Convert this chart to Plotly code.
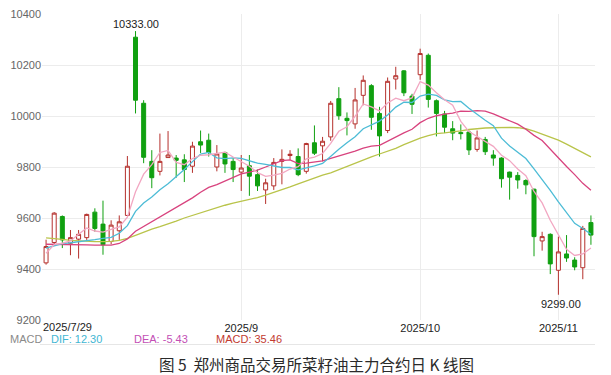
import plotly.graph_objects as go
import pandas as pd

# ---------------- data ----------------
dates = [d.strftime('%Y-%m-%d') for d in pd.bdate_range('2025-07-29', '2025-11-07')
         if not ('2025-10-01' <= d.strftime('%Y-%m-%d') <= '2025-10-08')]

opens = [9424, 9504, 9606, 9501, 9517, 9523, 9623, 9576, 9508, 9550,
         9610, 10309, 10050, 9822, 9783, 9837, 9835, 9828, 9803, 9899,
         9905, 9800, 9857, 9822, 9780, 9805, 9770, 9710, 9726, 9822,
         9845, 9841, 9783, 9895, 9883, 9918, 10068, 9991, 9969, 10081,
         10119, 10010, 9943, 10145, 10177, 10078, 10162, 10238, 10060, 10008,
         9950, 9935, 9937, 9869, 9908, 9847, 9835, 9780, 9767, 9747,
         9713, 9510, 9536, 9395, 9459, 9435, 9405, 9582]
highs = [9515, 9623, 9610, 9553, 9553, 9617, 9638, 9668, 9591, 9610,
         9843, 10333, 10062, 9866, 9931, 9941, 9847, 9850, 9899, 9943,
         9931, 9886, 9860, 9835, 9847, 9847, 9790, 9754, 9835, 9869,
         9866, 9873, 9895, 9963, 9918, 10059, 10113, 10014, 10110, 10159,
         10125, 10036, 10151, 10193, 10180, 10087, 10264, 10245, 10065, 10020,
         9980, 9967, 9943, 9943, 9918, 9866, 9838, 9782, 9780, 9752,
         9715, 9546, 9540, 9527, 9533, 9446, 9569, 9610]
lows = [9417, 9496, 9482, 9454, 9441, 9514, 9546, 9456, 9497, 9514,
        9610, 10010, 9815, 9717, 9767, 9837, 9758, 9741, 9777, 9855,
        9841, 9783, 9777, 9741, 9706, 9687, 9706, 9655, 9710, 9732,
        9828, 9764, 9774, 9847, 9822, 9903, 9985, 9924, 9950, 10042,
        9946, 9841, 9933, 10104, 10078, 10008, 10142, 10033, 9920, 9933,
        9905, 9908, 9847, 9860, 9847, 9805, 9719, 9672, 9715, 9693,
        9450, 9472, 9380, 9299, 9428, 9395, 9360, 9495]
closes = [9488, 9619, 9514, 9523, 9536, 9614, 9559, 9495, 9572, 9585,
          9803, 10062, 9838, 9758, 9822, 9847, 9826, 9790, 9882, 9886,
          9857, 9851, 9812, 9790, 9796, 9764, 9726, 9738, 9818, 9830,
          9850, 9770, 9892, 9854, 9901, 10050, 10001, 9982, 10063, 10140,
          9995, 9922, 10136, 10158, 10091, 10046, 10245, 10065, 10010, 9956,
          9933, 9931, 9867, 9914, 9860, 9835, 9754, 9760, 9749, 9730,
          9527, 9527, 9420, 9467, 9443, 9408, 9559, 9533]

ma5 = [9462, 9496, 9501, 9510, 9536, 9561, 9549, 9545, 9555, 9565,
       9603, 9703, 9772, 9809, 9857, 9865, 9818, 9809, 9833, 9846,
       9848, 9853, 9858, 9839, 9821, 9803, 9778, 9763, 9768, 9775,
       9792, 9801, 9832, 9839, 9853, 9893, 9940, 9958, 9999, 10047,
       10036, 10020, 10051, 10070, 10060, 10071, 10135, 10121, 10091, 10064,
       10042, 9979, 9939, 9920, 9901, 9881, 9846, 9825, 9792, 9766,
       9704, 9659, 9591, 9534, 9477, 9453, 9459, 9482]
ma10 = [9482, 9492, 9500, 9503, 9506, 9510, 9515, 9520, 9524, 9540,
        9570, 9626, 9659, 9682, 9711, 9734, 9761, 9790, 9821, 9851,
        9857, 9836, 9833, 9836, 9834, 9825, 9815, 9810, 9804, 9798,
        9798, 9789, 9797, 9804, 9814, 9843, 9870, 9895, 9919, 9950,
        9965, 9980, 10004, 10035, 10054, 10053, 10078, 10086, 10081, 10063,
        10056, 10057, 10030, 10006, 9983, 9962, 9913, 9882, 9856, 9833,
        9793, 9752, 9708, 9663, 9621, 9579, 9559, 9536]
ma20 = [9497, 9497, 9496, 9496, 9495, 9495, 9494, 9494, 9494, 9500,
        9518, 9548, 9567, 9583, 9602, 9622, 9641, 9659, 9679, 9701,
        9720, 9731, 9746, 9759, 9773, 9780, 9788, 9800, 9813, 9825,
        9828, 9813, 9815, 9820, 9824, 9834, 9843, 9853, 9862, 9874,
        9882, 9885, 9901, 9920, 9934, 9948, 9974, 9991, 10001, 10007,
        10011, 10019, 10018, 10021, 10019, 10008, 9995, 9984, 9968, 9948,
        9924, 9904, 9869, 9834, 9802, 9770, 9736, 9709]
ma60 = [9522, 9520, 9516, 9512, 9510, 9508, 9507, 9507, 9508, 9512,
        9520, 9532, 9545, 9556, 9566, 9576, 9588, 9600, 9610, 9620,
        9632, 9642, 9650, 9658, 9665, 9672, 9680, 9690, 9700, 9711,
        9722, 9734, 9746, 9758, 9768, 9777, 9790, 9803, 9816, 9828,
        9840, 9851, 9862, 9873, 9888, 9902, 9913, 9923, 9931, 9934,
        9937, 9942, 9947, 9951, 9953, 9954, 9955, 9955, 9954, 9950,
        9941, 9930, 9918, 9905, 9890, 9874, 9856, 9840]

tick_dates = ['2025-09-01', '2025-10-09', '2025-11-03']
tick_text = ['2025/9', '2025/10', '2025/11']
first_label = '2025/7/29'
y_ticks = [9200, 9400, 9600, 9800, 10000, 10200, 10400]

macd_labels = ['MACD', 'DIF: 12.30', 'DEA: -5.43', 'MACD: 35.46']
caption = '图 5  郑州商品交易所菜籽油主力合约日 K 线图'

# ---------------- style ----------------
W, H = 611, 375
L, R, T, B = 42, 16, 8, 55
PW, PH = W - L - R, H - T - B


def px_x(x):
    return (x - L) / PW


def px_y(y):
    return (H - B - y) / PH


RED = '#b5302c'
GREEN = '#10a010'
FONT = 'Liberation Sans, Arial, sans-serif'

fig = go.Figure()

for vals, col in [(ma60, '#b9c44a'), (ma20, '#d8437e'), (ma10, '#4dbcd6'), (ma5, '#f2a7c2')]:
    fig.add_trace(go.Scatter(x=dates, y=vals, mode='lines',
                             line=dict(color=col, width=1.3), hoverinfo='skip'))

fig.add_trace(go.Candlestick(
    x=dates, open=opens, high=highs, low=lows, close=closes,
    increasing=dict(line=dict(color=RED, width=1), fillcolor='white'),
    decreasing=dict(line=dict(color=GREEN, width=1), fillcolor=GREEN),
    whiskerwidth=0,
))

imax = highs.index(max(highs))
imin = lows.index(min(lows))
ann = [
    dict(x=dates[imax], y=highs[imax], text=f'{highs[imax]:.2f}', showarrow=False,
         yanchor='bottom', xanchor='center', yshift=-1, font=dict(size=11, color='#222', family=FONT)),
    dict(x=dates[imin], y=lows[imin], text=f'{lows[imin]:.2f}', showarrow=False,
         yanchor='top', xanchor='center', xshift=3, yshift=-1, font=dict(size=11, color='#222', family=FONT)),
    dict(x=px_x(41), y=px_y(327), xref='paper', yref='paper', text=first_label,
         showarrow=False, xanchor='left', yanchor='middle',
         font=dict(size=11, color='#222', family=FONT)),
]
macd_cols = ['#8a8a8a', '#3fb6d3', '#c34fb5', '#c23a30']
macd_x = [8, 49, 132, 214]
for t, c, x in zip(macd_labels, macd_cols, macd_x):
    ann.append(dict(x=px_x(x), y=px_y(339), xref='paper', yref='paper', text=t,
                    showarrow=False, xanchor='left', yanchor='middle',
                    font=dict(size=11, color=c, family=FONT)))
ann.append(dict(x=px_x(316), y=px_y(365), xref='paper', yref='paper', text=caption,
                showarrow=False, xanchor='center', yanchor='middle',
                font=dict(size=15.5, color='#2a2a2a', family='Noto Sans CJK SC')))

shapes = [dict(type='line', xref='paper', yref='paper', x0=px_x(40), x1=1,
               y0=px_y(345), y1=px_y(345), line=dict(color='#e6e6e6', width=1))]

fig.update_layout(
    width=W, height=H, margin=dict(l=L, r=R, t=T, b=B),
    paper_bgcolor='white', plot_bgcolor='white', showlegend=False,
    annotations=ann, shapes=shapes,
    xaxis=dict(type='category', range=[-0.5, len(dates) - 0.5],
               tickmode='array', tickvals=tick_dates, ticktext=tick_text,
               showgrid=True, gridcolor='#ececec', gridwidth=1,
               tickfont=dict(size=11, color='#222', family=FONT),
               rangeslider=dict(visible=False), showline=False, zeroline=False,
               ticks=''),
    yaxis=dict(range=[9200, 10400], tickmode='array', tickvals=y_ticks,
               ticktext=[str(v) for v in y_ticks],
               showgrid=True, gridcolor='#ececec', gridwidth=1, zeroline=False,
               tickfont=dict(size=11, color='#666', family=FONT), ticks=''),
)

fig.write_html('out.html', config={'displayModeBar': False},
               post_script="document.body.style.margin='0';document.body.style.overflow='hidden';")
